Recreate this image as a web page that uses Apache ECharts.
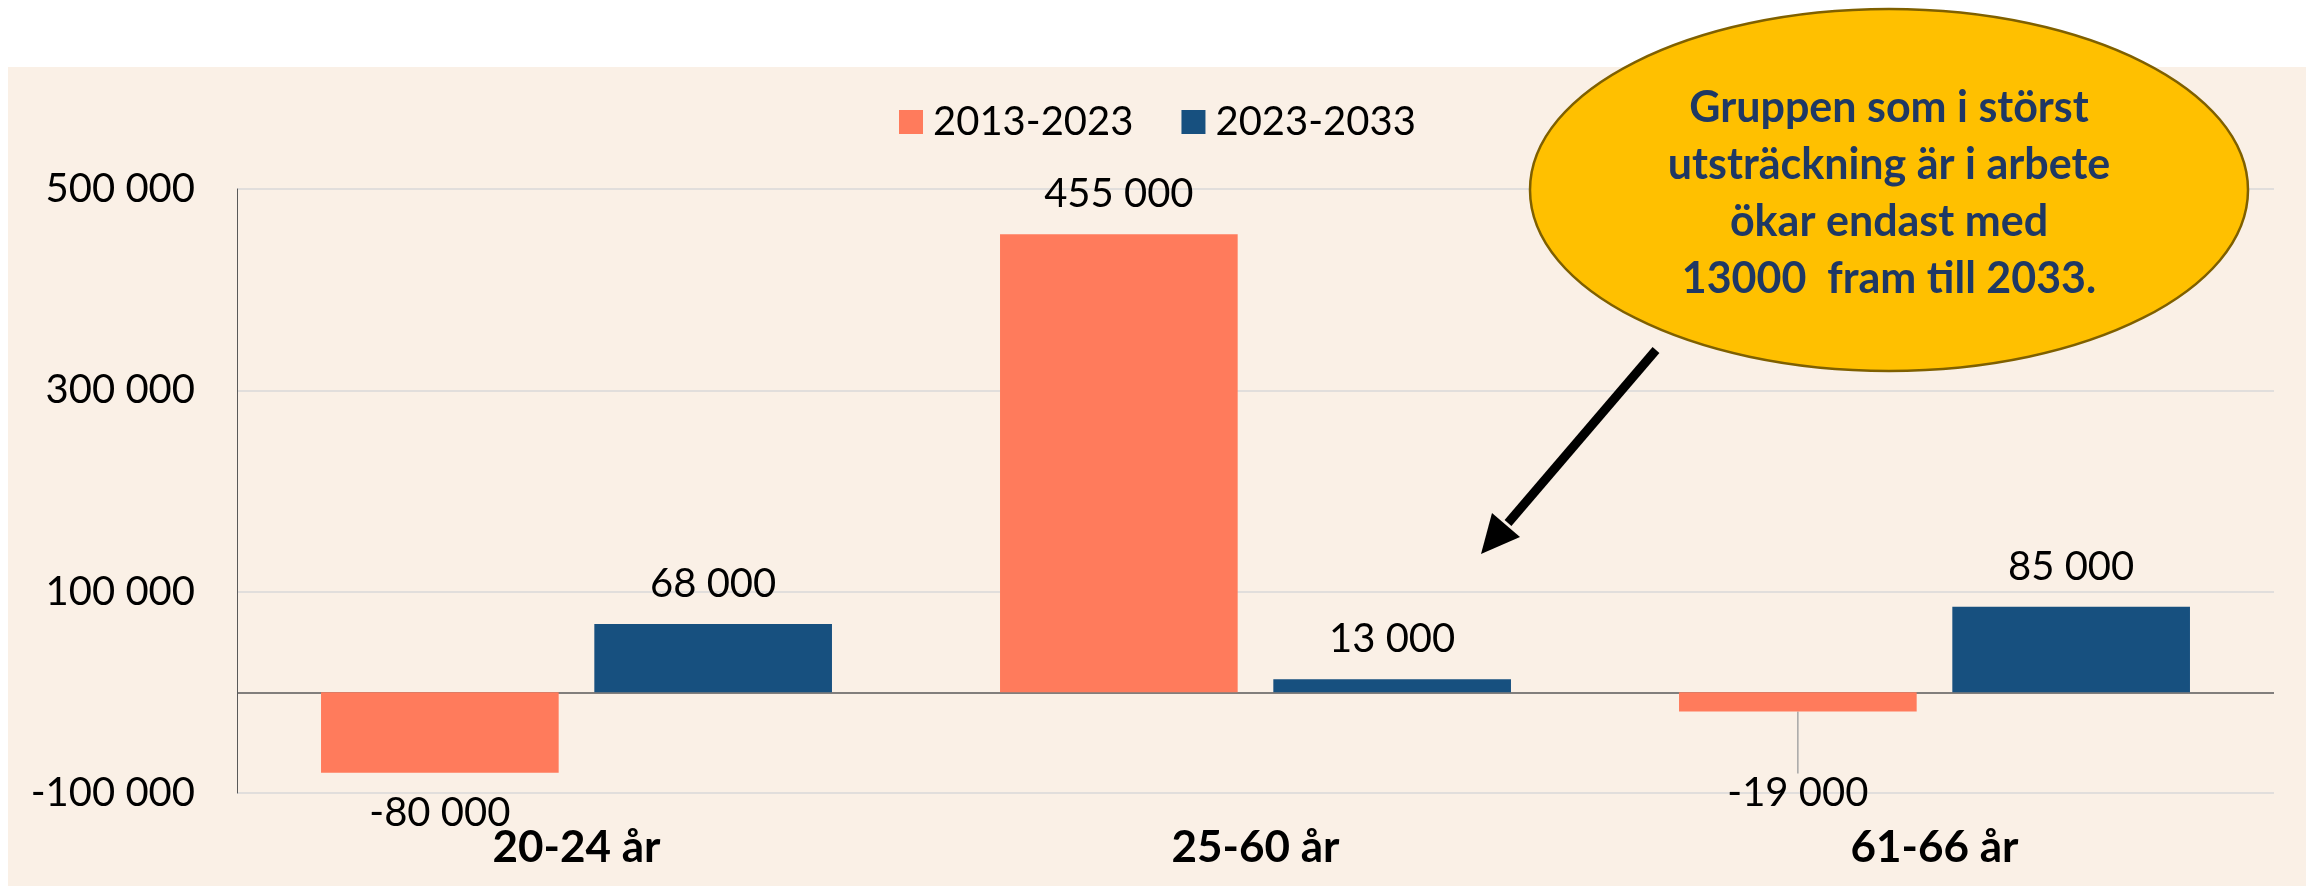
<!DOCTYPE html>
<html>
<head>
<meta charset="utf-8">
<script src="https://cdn.jsdelivr.net/npm/echarts@6/dist/echarts.min.js"></script>
<style>
  html, body { margin: 0; padding: 0; background: #ffffff; }
  #chart { width: 2308px; height: 886px; }
</style>
</head>
<body>
<div id="chart"></div>
<script>
// data
const categories = ["20-24 år", "25-60 år", "61-66 år"];
const seriesNames = ["2013-2023", "2023-2033"];
const values2013 = [-80000, 455000, -19000];
const values2023 = [68000, 13000, 85000];
const yTicks = [-100000, 100000, 300000, 500000];
const noteLines = [
  "Gruppen som i störst",
  "utsträckning är i arbete",
  "ökar endast med",
  "13000  fram till 2033.",
];

const yMin = -100000;
const yMax = 500000;
const yStep = 100000;

const fmt = (v) => String(v).replace(/\B(?=(\d{3})+(?!\d))/g, " ");

// grid line colours: grey on labelled ticks, dark on zero, hidden otherwise
const splitColors = [];
for (let v = yMin; v <= yMax; v += yStep) {
  if (v === 0) splitColors.push("#595959");
  else if (yTicks.includes(v)) splitColors.push("#d9d9d9");
  else splitColors.push("rgba(0,0,0,0)");
}

const chart = echarts.init(document.getElementById("chart"));

const labelStyle = {
  show: true,
  position: "outside",
  distance: 20,
  fontFamily: "Lato",
  fontSize: 40,
  color: "#000",
  formatter: (p) => fmt(p.value),
};

chart.setOption({
  backgroundColor: "#ffffff",
  animation: false,
  textStyle: { fontFamily: "Lato" },
  color: ["#FF7B5C", "#17507F"],
  graphic: [
    {
      type: "rect",
      z: -10,
      silent: true,
      shape: { x: 8, y: 67, width: 2298, height: 830 },
      style: { fill: "#FAF0E6" },
    },
    // callout
    {
      type: "ellipse",
      z: 100,
      shape: { cx: 1889, cy: 190, rx: 359, ry: 181 },
      style: { fill: "#FFC000", stroke: "#7F6000", lineWidth: 2.5 },
    },
    {
      type: "text",
      z: 101,
      x: 1889,
      y: 194,
      style: {
        text: noteLines.join("\n"),
        fontFamily: "Lato",
        fontWeight: "bold",
        fontSize: 43,
        lineHeight: 57,
        fill: "#1F3864",
        align: "center",
        verticalAlign: "middle",
      },
    },
    // arrow
    {
      type: "line",
      z: 100,
      shape: { x1: 1656, y1: 350, x2: 1508, y2: 523 },
      style: { stroke: "#000", lineWidth: 9 },
    },
    {
      type: "polygon",
      z: 100,
      shape: { points: [[1481, 554], [1520, 537], [1492, 513]] },
      style: { fill: "#000" },
    },
  ],
  legend: {
    top: 97,
    left: 894,
    itemWidth: 24,
    itemHeight: 24,
    itemGap: 48,
    icon: "rect",
    textStyle: { fontFamily: "Lato", fontSize: 40, color: "#000", padding: [0, 0, 0, 5] },
    data: seriesNames,
  },
  grid: { left: 237, right: 34, top: 189, bottom: 93, containLabel: false },
  xAxis: {
    type: "category",
    data: categories,
    axisLine: { show: false },
    axisTick: { show: false },
    axisLabel: {
      margin: 33,
      fontFamily: "Lato",
      fontWeight: "bold",
      fontSize: 44,
      color: "#000",
    },
  },
  yAxis: {
    type: "value",
    min: yMin,
    max: yMax,
    interval: yStep,
    axisLine: { show: true, lineStyle: { color: "#595959", width: 1 } },
    axisTick: { show: false },
    axisLabel: {
      margin: 42,
      fontFamily: "Lato",
      fontSize: 40,
      color: "#000",
      formatter: (v) => (yTicks.includes(v) ? fmt(v) : ""),
    },
    splitLine: { show: true, lineStyle: { color: splitColors, width: 1.5 } },
  },
  series: [
    {
      name: seriesNames[0],
      type: "bar",
      barWidth: "35%",
      barGap: "15%",
      label: labelStyle,
      labelLayout: (p) => (p.dataIndex === 2 ? { dy: 42 } : null),
      data: values2013.map((v, i) =>
        i === 2 ? { value: v, labelLine: { show: true, lineStyle: { color: "#a6a6a6", width: 1.5 } } } : v
      ),
    },
    {
      name: seriesNames[1],
      type: "bar",
      barWidth: "35%",
      barGap: "15%",
      label: labelStyle,
      data: values2023,
    },
  ],
});
</script>
</body>
</html>
